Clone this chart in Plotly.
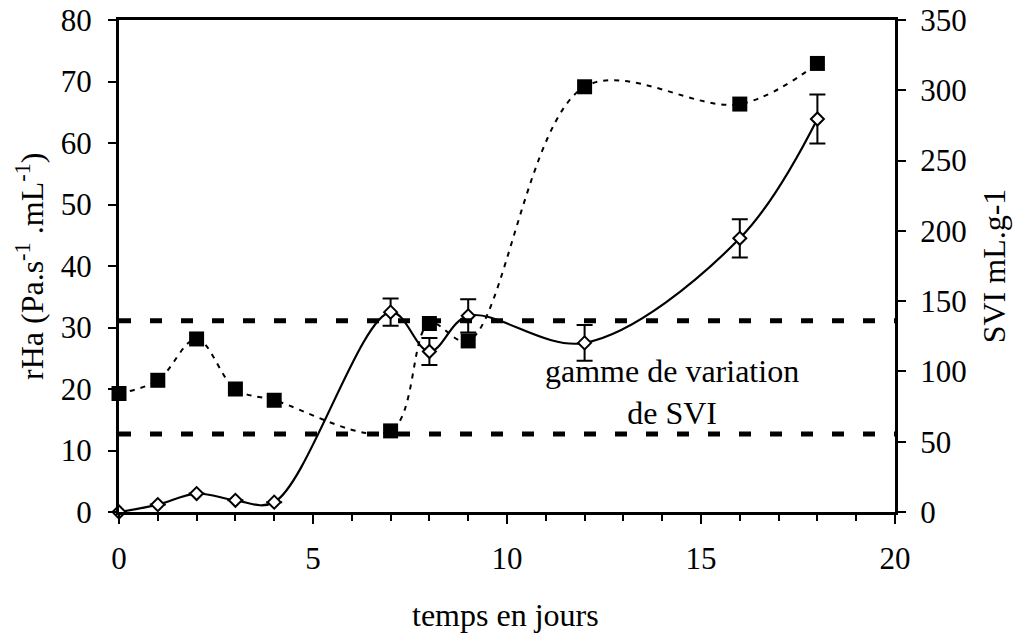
import plotly.graph_objects as go

# ---- data ----
days = [0, 1, 2, 3, 4, 7, 8, 9, 12, 16, 18]
rha = [0, 1.2, 3.0, 1.9, 1.6, 32.5, 26.1, 31.9, 27.5, 44.5, 63.9]
rha_err = [None, None, None, None, None, 2.2, 2.2, 2.7, 2.9, 3.1, 4.0]
svi = [84.3, 93.7, 123.1, 87.5, 79.5, 57.7, 134.1, 121.7, 302.5, 290.2, 319.1]
svi_range = [55.5, 136]
x_range = [0, 20]

FONT = "Liberation Serif, Times New Roman, serif"

fig = go.Figure()

# SVI range lines (right axis)
for v in svi_range:
    fig.add_trace(go.Scatter(
        x=x_range, y=[v, v], yaxis="y2", mode="lines",
        line=dict(color="black", width=5, dash="12px,19px"),
        showlegend=False, hoverinfo="skip"))

# SVI series (squares, dotted smooth line)
fig.add_trace(go.Scatter(
    x=days, y=svi, yaxis="y2", mode="lines+markers", cliponaxis=False,
    line=dict(color="black", width=2, dash="5px,6px", shape="spline", smoothing=1),
    marker=dict(symbol="square", size=15, color="black"),
    showlegend=False))

# rHa series (diamonds, solid smooth line, error bars)
fig.add_trace(go.Scatter(
    x=days, y=rha, yaxis="y", mode="lines+markers", cliponaxis=False,
    line=dict(color="black", width=2.2, shape="spline", smoothing=1),
    marker=dict(symbol="diamond", size=10, color="white",
                line=dict(color="black", width=2)),
    error_y=dict(type="data", array=rha_err, visible=True,
                 color="black", thickness=2, width=8),
    showlegend=False))

fig.update_layout(
    width=1013, height=635,
    margin=dict(l=119, r=118, t=20, b=123),
    paper_bgcolor="white", plot_bgcolor="white",
    font=dict(family=FONT, size=31, color="black"),
    showlegend=False,
    xaxis=dict(
        range=x_range, dtick=5, tick0=0, automargin=False,
        showgrid=False, zeroline=False,
        showline=True, linecolor="black", linewidth=3, mirror=True,
        ticks="outside", ticklen=9, tickwidth=2, tickcolor="black",
        ticklabelstandoff=8,
        minor=dict(dtick=1, ticks="outside", ticklen=6, tickwidth=2, tickcolor="black"),
    ),
    yaxis=dict(
        range=[0, 80], dtick=10, automargin=False,
        showgrid=False, zeroline=False,
        showline=True, linecolor="black", linewidth=3,
        ticks="outside", ticklen=8, tickwidth=2, tickcolor="black",
        ticklabelstandoff=10,
    ),
    yaxis2=dict(
        range=[0, 350], dtick=50, overlaying="y", side="right", automargin=False,
        showgrid=False, zeroline=False,
        showline=True, linecolor="black", linewidth=3,
        ticks="outside", ticklen=8, tickwidth=2, tickcolor="black",
        ticklabelstandoff=8,
    ),
    annotations=[
        dict(text="rHa (Pa.s<sup>-1</sup> .mL<sup>-1</sup>)", textangle=-90,
             xref="paper", yref="paper", x=-0.1147, y=0.5,
             xanchor="center", yanchor="middle", showarrow=False,
             font=dict(family=FONT, size=32)),
        dict(text="SVI mL.g-1", textangle=-90,
             xref="paper", yref="paper", x=1.128, y=0.5,
             xanchor="center", yanchor="middle", showarrow=False,
             font=dict(family=FONT, size=32)),
        dict(text="temps en jours",
             xref="paper", yref="paper", x=0.4987, y=-0.209,
             xanchor="center", yanchor="middle", showarrow=False,
             font=dict(family=FONT, size=32)),
        dict(text="gamme de variation<br>de SVI",
             xref="x", yref="y", x=14.25, y=19.5,
             xanchor="center", yanchor="middle", showarrow=False,
             font=dict(family=FONT, size=32)),
    ],
)

fig.write_html("out.html", config={"displayModeBar": False},
               post_script="document.body.style.margin='0';document.body.style.overflow='hidden';")
